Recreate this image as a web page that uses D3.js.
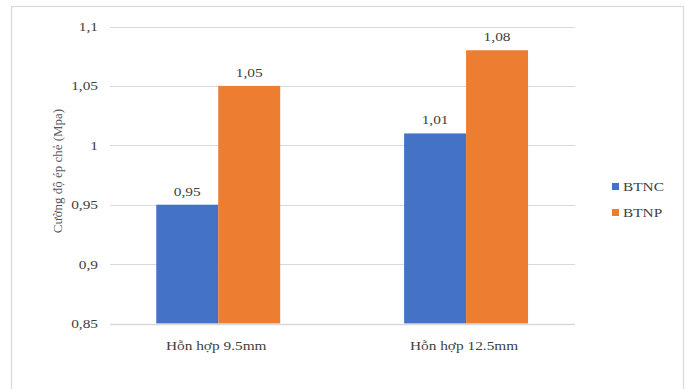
<!DOCTYPE html>
<html>
<head>
<meta charset="utf-8">
<script src="https://cdn.jsdelivr.net/npm/d3@7"></script>
<style>
  html, body { margin: 0; padding: 0; background: #fff; }
  svg { display: block; font-family: "Liberation Serif", "Times New Roman", serif; }
</style>
</head>
<body>
<svg id="chart" width="686" height="389"></svg>
<script>
const categories = ["Hỗn hợp 9.5mm", "Hỗn hợp 12.5mm"];
const seriesNames = ["BTNC", "BTNP"];
const btnc = [0.95, 1.01];
const btnp = [1.05, 1.08];
const yTicks = [0.85, 0.9, 0.95, 1, 1.05, 1.1];
const colors = ["#4472C4", "#ED7D31"];
const yTitle = "Cường độ ép chẻ (Mpa)";

const series = [btnc, btnp];
const svg = d3.select("#chart");
const fmt = v => String(+v.toFixed(2)).replace(".", ",");
const STRETCH = 1.18;
function stretch(sel) {
  sel.each(function () {
    const w = this.getComputedTextLength();
    d3.select(this).attr("textLength", w * STRETCH).attr("lengthAdjust", "spacingAndGlyphs");
  });
}

// outer border
svg.append("rect").attr("x", 11.5).attr("y", 6.5).attr("width", 672).attr("height", 400)
  .attr("fill", "#fff").attr("stroke", "#d9d9d9").attr("stroke-width", 1.2);

const y = d3.scaleLinear().domain([0.85, 1.1]).range([323.5, 26.5]);
const x = d3.scaleBand().domain(categories).range([94.3, 590]).paddingInner(0).paddingOuter(0);
const gridX0 = 110, gridX1 = 575;

// gridlines
svg.append("g").selectAll("line").data(yTicks.slice(1)).join("line")
  .attr("x1", gridX0).attr("x2", gridX1)
  .attr("y1", d => Math.round(y(d)) + 0.5).attr("y2", d => Math.round(y(d)) + 0.5)
  .attr("stroke", "#d9d9d9").attr("stroke-width", 1.2);

// y tick labels
svg.append("g").selectAll("text").data(yTicks).join("text")
  .attr("x", 98).attr("y", d => y(d)).attr("dy", "0.35em")
  .attr("text-anchor", "end").attr("font-size", 13).attr("fill", "#404040")
  .text(d => fmt(d)).call(stretch);

// bars
const barW = x.bandwidth() / 4;
const groups = svg.append("g");
series.forEach((vals, si) => {
  groups.append("g").selectAll("rect").data(vals).join("rect")
    .attr("x", (d, i) => x(categories[i]) + x.bandwidth() / 2 - barW + si * barW)
    .attr("width", barW)
    .attr("y", d => y(d))
    .attr("height", d => y(0.85) - y(d))
    .attr("fill", colors[si]);
  groups.append("g").selectAll("text").data(vals).join("text")
    .attr("x", (d, i) => x(categories[i]) + x.bandwidth() / 2 - barW + si * barW + barW / 2)
    .attr("y", d => y(d) - 9)
    .attr("text-anchor", "middle").attr("font-size", 13).attr("fill", "#404040")
    .text(d => fmt(d)).call(stretch);
});

// x axis line
svg.append("line").attr("x1", gridX0).attr("x2", gridX1)
  .attr("y1", Math.round(y(0.85)) + 0.5).attr("y2", Math.round(y(0.85)) + 0.5)
  .attr("stroke", "#d9d9d9").attr("stroke-width", 1.5);

// category labels
svg.append("g").selectAll("text").data(categories).join("text")
  .attr("x", d => x(d) + x.bandwidth() / 2 - 2)
  .attr("y", 349.5)
  .attr("text-anchor", "middle").attr("font-size", 13).attr("fill", "#404040")
  .text(d => d).call(stretch);

// y axis title
svg.append("text")
  .attr("transform", "translate(57,171) rotate(-90)")
  .attr("text-anchor", "middle").attr("dy", "0.35em")
  .attr("font-size", 13).attr("fill", "#595959")
  .text(yTitle);

// legend
const leg = svg.append("g").selectAll("g").data(seriesNames).join("g")
  .attr("transform", (d, i) => `translate(612,${183 + i * 26})`);
leg.append("rect").attr("width", 7).attr("height", 7).attr("fill", (d, i) => colors[i]);
leg.append("text").attr("x", 11).attr("y", 3.5).attr("dy", "0.35em")
  .attr("font-size", 13).attr("fill", "#404040").text(d => d).call(stretch);
</script>
</body>
</html>
